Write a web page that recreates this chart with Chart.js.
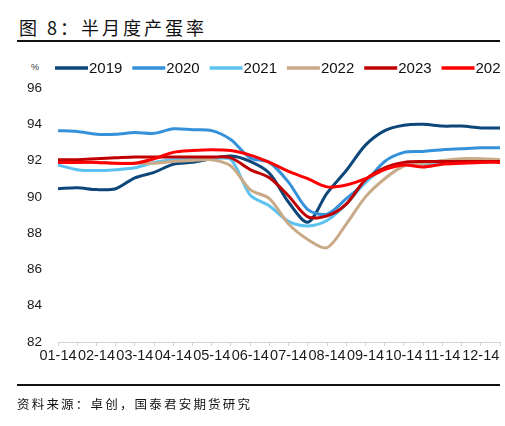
<!DOCTYPE html>
<html>
<head>
<meta charset="utf-8">
<script src="https://cdn.jsdelivr.net/npm/chart.js@4.4.1/dist/chart.umd.min.js"></script>
<style>
  html, body { margin: 0; padding: 0; background: #fff; }
  #wrap { position: relative; width: 505px; height: 426px; overflow: hidden; }
  #chart { position: absolute; left: 0; top: 0; }
  .title { position: absolute; left: 19px; top: 14px; font: 18px "Noto Sans CJK SC", sans-serif; letter-spacing: 3px; color: #111; }
  .rule { position: absolute; left: 17px; width: 483px; height: 1.5px; background: #111; }
  .source { position: absolute; left: 17px; top: 394px; font: 12.5px "Noto Sans CJK SC", sans-serif; letter-spacing: 2.2px; color: #111; }
  .unit { position: absolute; left: 31px; top: 62px; font: 9px "Liberation Sans", sans-serif; color: #333; }
</style>
</head>
<body>
<div id="wrap">
  <div class="title">图 8：半月度产蛋率</div>
  <div class="rule" style="top:40px"></div>
  <div class="unit">%</div>
  <canvas id="chart" width="505" height="426"></canvas>
  <div class="rule" style="top:384px"></div>
  <div class="source">资料来源：卓创，国泰君安期货研究</div>
</div>
<script>
// half-month points, 01-14 .. 12-28
const months = ['01','02','03','04','05','06','07','08','09','10','11','12'];
const categories = [];
months.forEach(m => { categories.push(m + '-14'); categories.push(m + '-28'); });

const years = ['2019', '2020', '2021', '2022', '2023', '2024'];
const colors = ['#0d4678', '#3592da', '#5cc3f0', '#c9aa88', '#c00000', '#ff0000'];

const y2019 = [90.45, 90.5, 90.4, 90.45, 91.05, 91.35, 91.8, 91.9, 92.1, 92.25, 91.95, 91.3,
               89.7, 88.6, 90.2, 91.45, 92.85, 93.65, 93.95, 94.0, 93.9, 93.9, 93.8, 93.8];
const y2020 = [93.65, 93.6, 93.45, 93.45, 93.55, 93.5, 93.75, 93.7, 93.65, 93.15, 92.15, 91.9,
               90.8, 89.3, 89.05, 89.9, 90.8, 91.95, 92.45, 92.5, 92.6, 92.65, 92.7, 92.7];
const y2021 = [91.75, 91.5, 91.45, 91.5, 91.6, 91.9, 92.05, 92.1, 92.1, 92.05, 90.1, 89.5,
               88.65, 88.4, 88.7, 89.6, 90.8, 91.55, 91.8, 91.8, 91.85, 91.9, 91.9, 91.95];
const y2022 = [91.95, 91.9, 91.9, 91.85, 91.85, 91.85, 91.95, 92.0, 92.05, 91.7, 90.4, 89.9,
               88.5, 87.65, 87.2, 88.5, 90.0, 91.0, 91.7, 91.85, 92.0, 92.1, 92.1, 92.05];
const y2023 = [92.05, 92.05, 92.1, 92.15, 92.2, 92.2, 92.2, 92.2, 92.2, 92.15, 91.5, 91.05,
               90.05, 88.9, 88.95, 89.6, 90.95, 91.6, 91.9, 91.95, 91.95, 91.95, 91.95, 91.95];
const y2024 = [91.9, 91.9, 91.9, 91.85, 91.85, 92.1, 92.45, 92.55, 92.6, 92.55, 92.3, 91.9,
               91.4, 91.0, 90.55, 90.65, 91.0, 91.5, 91.75, 91.65, 91.8, 91.85, 91.9, 91.9];
const series = [y2019, y2020, y2021, y2022, y2023, y2024];

const yMin = 82, yMax = 96, yStep = 2;

// legend drawn across the top, cut off at the right edge like the original
const lineLegend = {
  id: 'lineLegend',
  afterDraw(chart) {
    const ctx = chart.ctx;
    ctx.save();
    ctx.beginPath();
    ctx.rect(0, 50, 501, 40);
    ctx.clip();
    ctx.font = '15px "Liberation Sans", Arial, sans-serif';
    ctx.textBaseline = 'middle';
    chart.data.datasets.forEach((ds, i) => {
      const x0 = 55 + i * 77.3;
      ctx.strokeStyle = ds.borderColor;
      ctx.lineWidth = 3.5;
      ctx.beginPath();
      ctx.moveTo(x0, 68);
      ctx.lineTo(x0 + 33, 68);
      ctx.stroke();
      ctx.fillStyle = '#111';
      ctx.fillText(ds.label, x0 + 34, 68.5);
    });
    ctx.restore();
  }
};

new Chart(document.getElementById('chart'), {
  type: 'line',
  data: {
    labels: categories,
    datasets: years.map((yr, i) => ({
      label: yr,
      data: series[i],
      borderColor: colors[i],
      backgroundColor: colors[i],
      borderWidth: 3,
      pointRadius: 0,
      tension: 0.3,
      fill: false,
      order: years.length - i
    }))
  },
  options: {
    responsive: false,
    animation: false,
    layout: { padding: { top: 88, right: 5, left: 0, bottom: 0 } },
    plugins: {
      legend: { display: false },
      tooltip: { enabled: false }
    },
    scales: {
      x: {
        offset: false,
        afterFit(scale) { scale.height = 84; },
        border: { display: true, color: '#d4d4d4', width: 1 },
        grid: { drawOnChartArea: false, drawTicks: true, tickLength: 4, color: '#d4d4d4' },
        ticks: {
          autoSkip: false,
          maxRotation: 0,
          padding: 1,
          color: '#1a1a1a',
          font: { family: '"Liberation Sans", Arial, sans-serif', size: 14.5 },
          callback(value, index) { return index % 2 === 0 ? categories[index] : ''; }
        }
      },
      y: {
        min: yMin,
        max: yMax,
        afterFit(scale) { scale.width = 58; },
        border: { display: false },
        grid: { display: false, drawTicks: false },
        ticks: {
          stepSize: yStep,
          padding: 16,
          color: '#1a1a1a',
          font: { family: '"Liberation Sans", Arial, sans-serif', size: 13.5 }
        }
      }
    }
  },
  plugins: [lineLegend]
});
</script>
</body>
</html>
